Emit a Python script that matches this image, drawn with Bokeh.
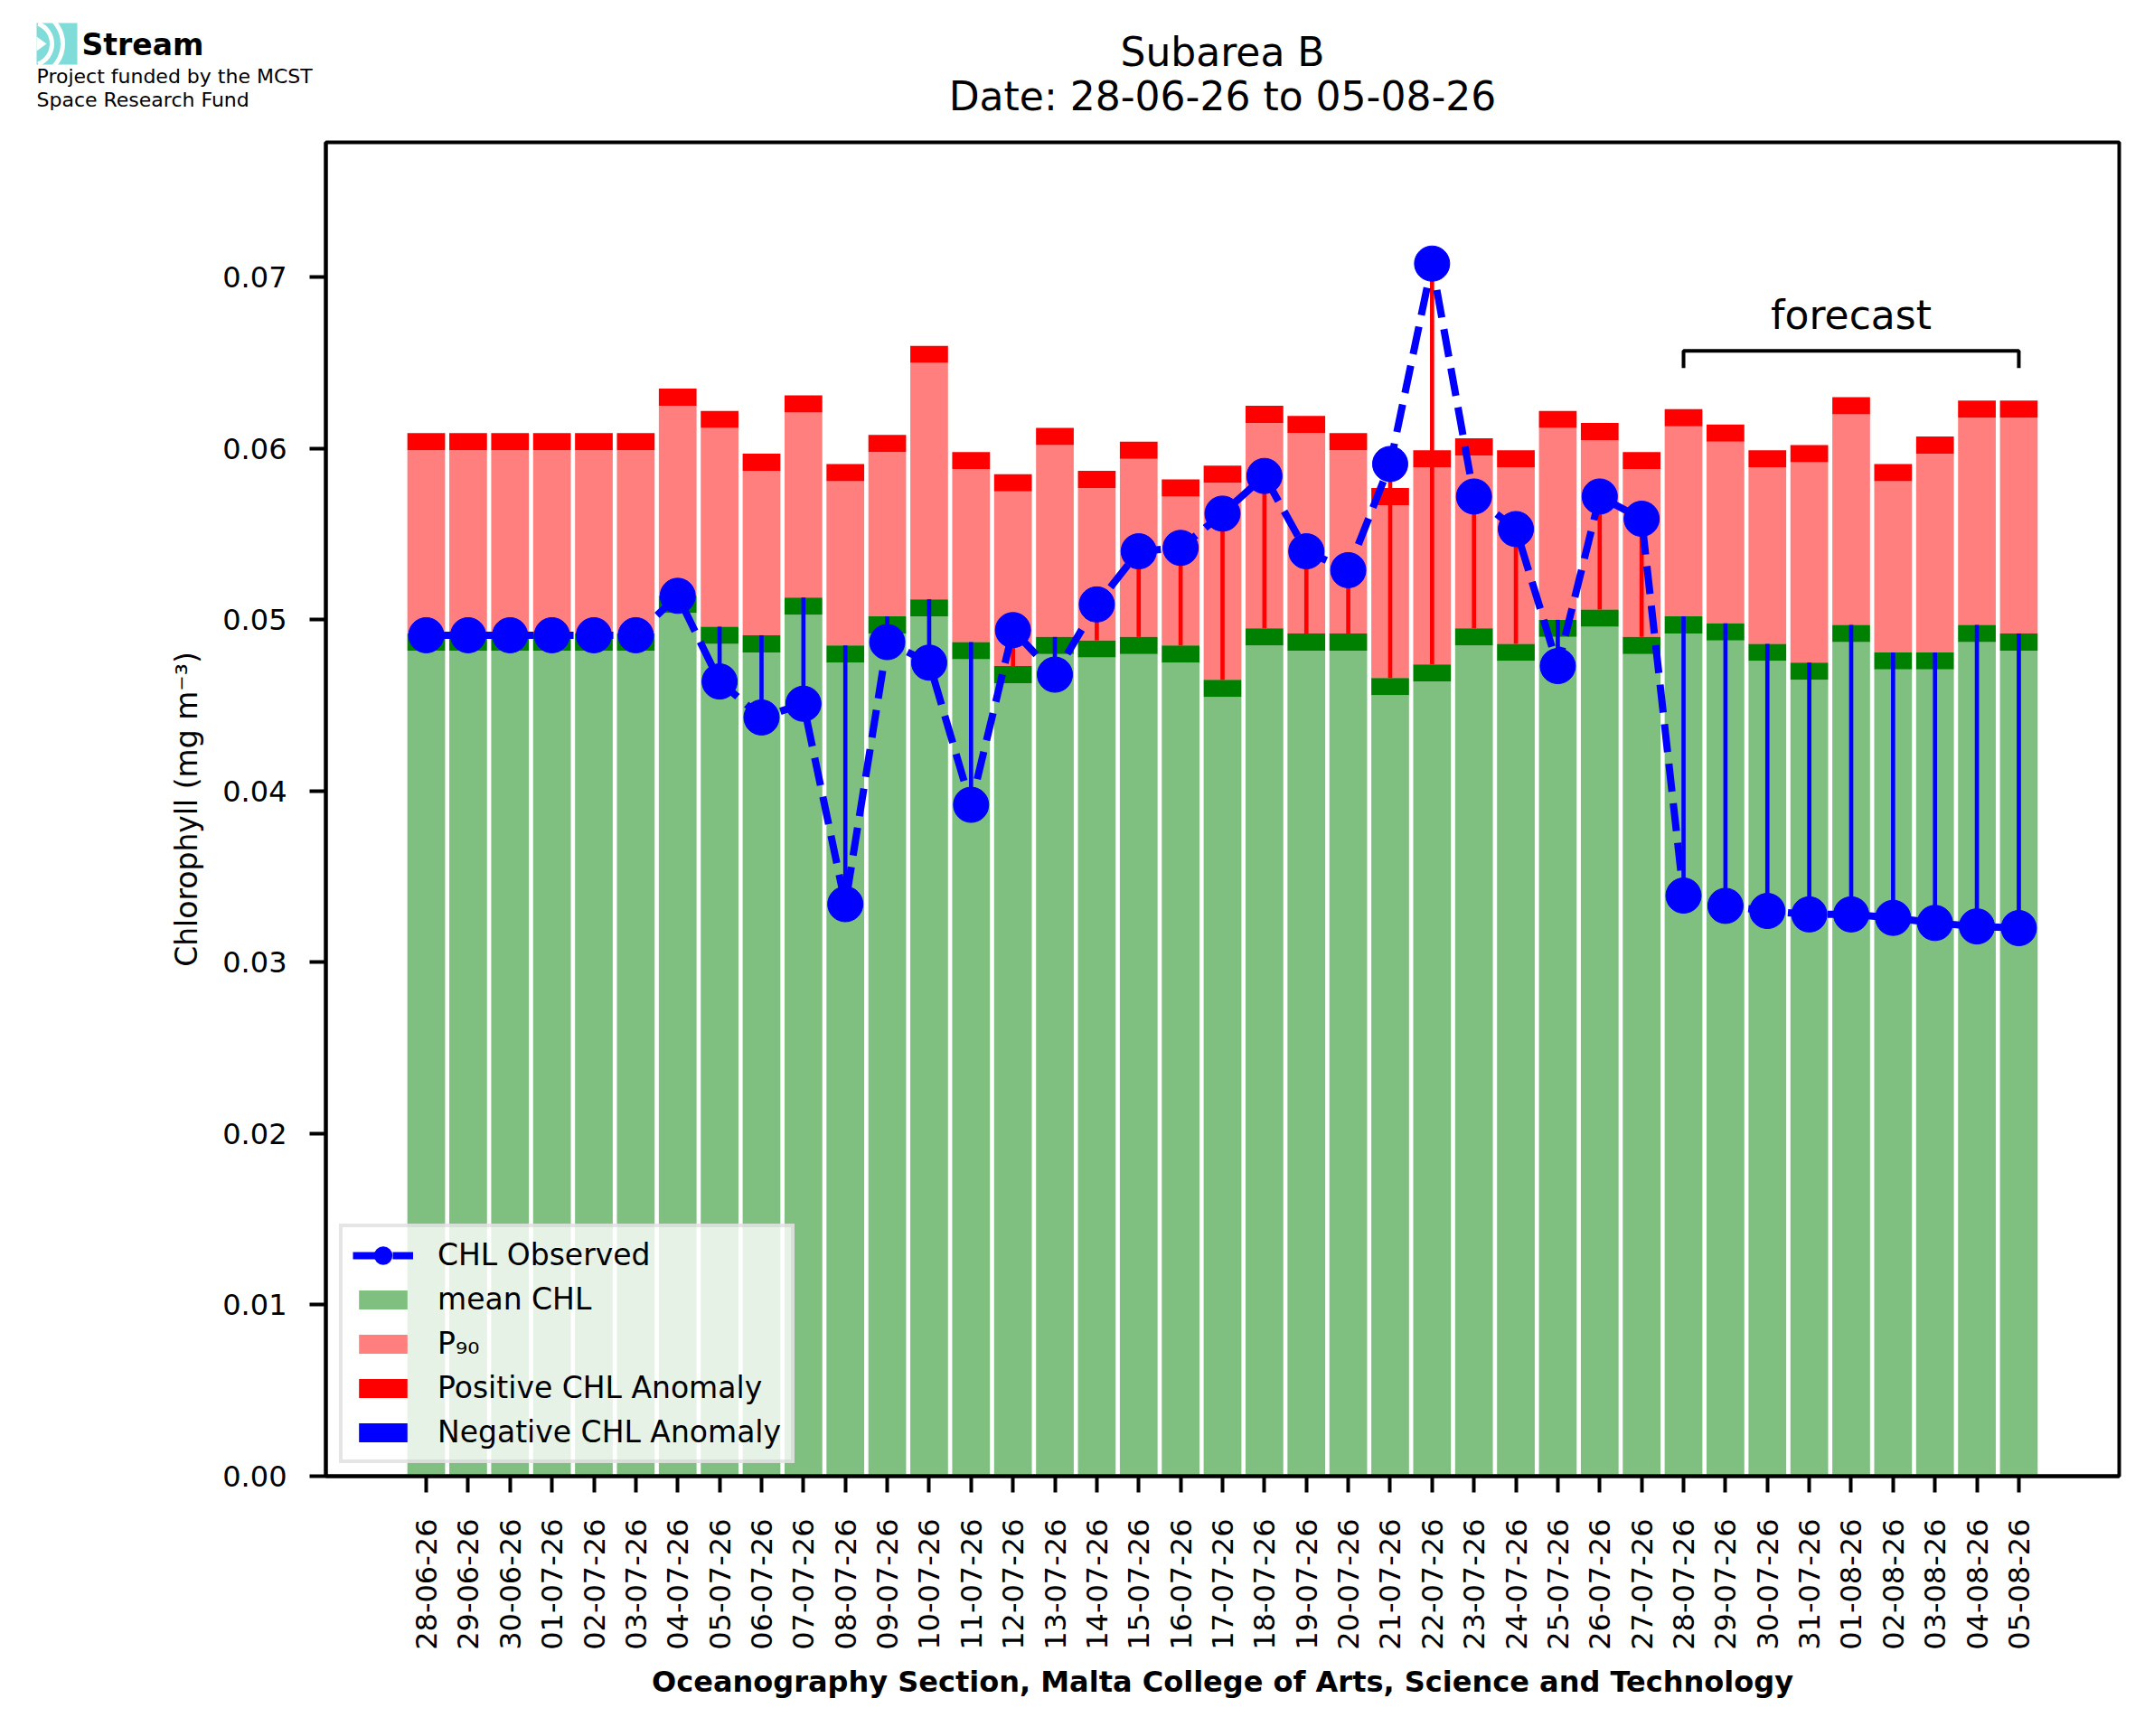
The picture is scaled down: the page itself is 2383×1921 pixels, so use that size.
import math
from bokeh.plotting import figure
from bokeh.layouts import column
from bokeh.models import (ColumnDataSource, Range1d, FixedTicker,
                          PrintfTickFormatter, Legend, LegendItem, Label)
from bokeh.embed import file_html
from bokeh.resources import INLINE

# ---------------- data ----------------
dates = ["28-06-26", "29-06-26", "30-06-26", "01-07-26", "02-07-26", "03-07-26", "04-07-26",
         "05-07-26", "06-07-26", "07-07-26", "08-07-26", "09-07-26", "10-07-26", "11-07-26",
         "12-07-26", "13-07-26", "14-07-26", "15-07-26", "16-07-26", "17-07-26", "18-07-26",
         "19-07-26", "20-07-26", "21-07-26", "22-07-26", "23-07-26", "24-07-26", "25-07-26",
         "26-07-26", "27-07-26", "28-07-26", "29-07-26", "30-07-26", "31-07-26", "01-08-26",
         "02-08-26", "03-08-26", "04-08-26", "05-08-26"]

mean_chl = [0.0492, 0.0492, 0.0492, 0.0492, 0.0492, 0.0492, 0.0514,
            0.0496, 0.0491, 0.0513, 0.0485, 0.0502, 0.0512, 0.0487,
            0.0473, 0.0490, 0.0488, 0.0490, 0.0485, 0.0465, 0.0495,
            0.0492, 0.0492, 0.0466, 0.0474, 0.0495, 0.0486, 0.0500,
            0.0506, 0.0490, 0.0502, 0.0498, 0.0486, 0.0475, 0.0497,
            0.0481, 0.0481, 0.0497, 0.0492]

p90_chl = [0.0609, 0.0609, 0.0609, 0.0609, 0.0609, 0.0609, 0.0635,
           0.0622, 0.0597, 0.0631, 0.0591, 0.0608, 0.0660, 0.0598,
           0.0585, 0.0612, 0.0587, 0.0604, 0.0582, 0.0590, 0.0625,
           0.0619, 0.0609, 0.0577, 0.0599, 0.0606, 0.0599, 0.0622,
           0.0615, 0.0598, 0.0623, 0.0614, 0.0599, 0.0602, 0.0630,
           0.0591, 0.0607, 0.0628, 0.0628]

obs_chl = [0.0491, 0.0491, 0.0491, 0.0491, 0.0491, 0.0491, 0.0514,
           0.0464, 0.0443, 0.0451, 0.0334, 0.0487, 0.0475, 0.0392,
           0.0494, 0.0468, 0.0509, 0.0540, 0.0542, 0.0562, 0.0584,
           0.0540, 0.0529, 0.0591, 0.0708, 0.0572, 0.0553, 0.0473,
           0.0572, 0.0559, 0.0339, 0.0333, 0.0330, 0.0328, 0.0328,
           0.0326, 0.0323, 0.0321, 0.0320]

forecast_start = "28-07-26"
y_ticks = [0.00, 0.01, 0.02, 0.03, 0.04, 0.05, 0.06, 0.07]

title_lines = ["Subarea B", "Date: " + dates[0] + " to " + dates[-1]]
logo_name = "Stream"
logo_lines = ["Project funded by the MCST", "Space Research Fund"]

# ---------------- styling constants ----------------
BAND = 0.001          # thickness of the dark marker bands
BAR_W = 0.9
ANOM_W = 0.1
FONT = "DejaVu Sans"
BASE_FIX = 0.39       # label baseline correction (fraction of font size)

W, H = 2380, 1918
HH = 147                                   # header height
FL, FR, FT, FB = 360, 2344, 157, 1633      # frame edges in page px
HM = H - HH

# ---------------- header (title + logo) ----------------
hdr = figure(width=W, height=HH, output_backend="svg", toolbar_location=None,
             x_range=Range1d(0, W), y_range=Range1d(HH, 0), title=None,
             x_axis_location=None, y_axis_location=None,
             min_border_left=0, min_border_right=0, min_border_top=0, min_border_bottom=0)
hdr.grid.visible = False
hdr.outline_line_color = None
hdr.background_fill_color = "white"
hdr.border_fill_color = "white"

def hdr_text(text, x, base, size, align="left", style="normal"):
    hdr.add_layout(Label(x=x, y=base, text=text, text_align=align, text_baseline="alphabetic",
                         y_offset=round(BASE_FIX * size), text_font=FONT,
                         text_font_size=f"{size}px", text_font_style=style, text_color="black"))

mid = (FL + FR) / 2
hdr_text(title_lines[0], mid, 74, 44, align="center")
hdr_text(title_lines[1], mid, 123, 44, align="center")
hdr_text(logo_name, 90, 62, 33, style="bold")
hdr_text(logo_lines[0], 40, 93, 22)
hdr_text(logo_lines[1], 40, 119, 22)

# logo icon
LOGO_CYAN = "#7fdcd8"
hdr.quad(left=[40], right=[85], top=[25], bottom=[71], fill_color=LOGO_CYAN, line_color=None)
hdr.arc(x=[33, 33], y=[48, 48], radius=[24, 36], start_angle=-1.2, end_angle=1.2,
        line_color="white", line_width=5)
hdr.patch(x=[40, 51, 40], y=[40, 48, 56], fill_color="white", line_color=None)

# ---------------- main chart ----------------
xs = list(range(len(dates)))
src = ColumnDataSource(dict(
    x=xs,
    mean=mean_chl,
    mean_lo=[m - BAND for m in mean_chl],
    p90=p90_chl,
    p90_lo=[q - BAND for q in p90_chl],
    obs=obs_chl,
))

pos = [(i, m, o) for i, m, o in zip(xs, mean_chl, obs_chl) if o > m]
neg = [(i, m, o) for i, m, o in zip(xs, mean_chl, obs_chl) if o <= m]
pos_src = ColumnDataSource(dict(x=[a[0] for a in pos], b=[a[1] for a in pos], t=[a[2] for a in pos]))
neg_src = ColumnDataSource(dict(x=[a[0] for a in neg], b=[a[2] for a in neg], t=[a[1] for a in neg]))

n = len(dates)
pad = 0.05 * (n - 1 + BAR_W)
p = figure(width=W, height=HM, output_backend="svg", toolbar_location=None, title=None,
           x_range=Range1d(-BAR_W / 2 - pad, n - 1 + BAR_W / 2 + pad),
           y_range=Range1d(0, 1.1 * max(obs_chl + p90_chl)),
           min_border_left=FL, min_border_right=W - FR,
           min_border_top=FT - HH, min_border_bottom=HM - (FB - HH))
p.background_fill_color = "white"
p.border_fill_color = "white"
p.grid.visible = False
p.outline_line_color = "black"
p.outline_line_width = 4

# keep the header independent of the chart frame
for fig in (hdr, p):
    try:
        fig.frame_align = False
    except Exception:
        pass

# bars
r_mean = p.vbar(x="x", bottom=0, top="mean_lo", width=BAR_W, source=src,
                fill_color="green", fill_alpha=0.5, line_color=None)
p.vbar(x="x", bottom="mean_lo", top="mean", width=BAR_W, source=src,
       fill_color="green", fill_alpha=1.0, line_color=None)
r_p90 = p.vbar(x="x", bottom="mean", top="p90_lo", width=BAR_W, source=src,
               fill_color="red", fill_alpha=0.5, line_color=None)
p.vbar(x="x", bottom="p90_lo", top="p90", width=BAR_W, source=src,
       fill_color="red", fill_alpha=1.0, line_color=None)

# anomalies
r_pos = p.vbar(x="x", bottom="b", top="t", width=ANOM_W, source=pos_src,
               fill_color="red", line_color=None)
r_neg = p.vbar(x="x", bottom="b", top="t", width=ANOM_W, source=neg_src,
               fill_color="blue", line_color=None)

# observed
r_line = p.line(x="x", y="obs", source=src, line_color="blue", line_width=8, line_dash="31 13")
# outlined copy, hidden beneath the real dots, gives the legend a larger dot
r_big = p.scatter(x="x", y="obs", source=src, size=10, fill_color="blue",
                  line_color="blue", line_width=10)
r_dot = p.scatter(x="x", y="obs", source=src, size=39, fill_color="blue", line_color="blue")

# forecast bracket
i0 = dates.index(forecast_start)
i1 = n - 1
BR_Y = 0.0657
BR_T = 0.001
p.line(x=[i0, i0, i1, i1], y=[BR_Y - BR_T, BR_Y, BR_Y, BR_Y - BR_T],
       line_color="black", line_width=4)
p.add_layout(Label(x=(i0 + i1) / 2, y=0.0669, text="forecast", text_align="center",
                   text_baseline="alphabetic", y_offset=round(BASE_FIX * 44),
                   text_font=FONT, text_font_size="44px", text_color="black"))

# axes
p.xaxis.ticker = FixedTicker(ticks=xs)
p.xaxis.major_label_overrides = {i: d for i, d in zip(xs, dates)}
p.xaxis.major_label_orientation = math.pi / 2
p.yaxis.ticker = FixedTicker(ticks=y_ticks)
p.yaxis.formatter = PrintfTickFormatter(format="%.2f")
for ax in (p.xaxis, p.yaxis):
    ax.axis_line_color = "black"
    ax.axis_line_width = 4
    ax.major_tick_line_color = "black"
    ax.major_tick_line_width = 4
    ax.major_tick_out = 18
    ax.major_tick_in = 0
    ax.minor_tick_line_color = None
    ax.major_label_text_font = FONT
    ax.major_label_text_font_size = "32px"
    ax.major_label_text_color = "black"
    ax.axis_label_text_font = FONT
    ax.axis_label_text_color = "black"
p.xaxis.major_label_standoff = 29
p.yaxis.major_label_standoff = 25
p.xaxis.axis_label = "Oceanography Section, Malta College of Arts, Science and Technology"
p.xaxis.axis_label_text_font_style = "bold"
p.xaxis.axis_label_text_font_size = "32px"
p.xaxis.axis_label_standoff = 13
p.yaxis.axis_label = "Chlorophyll (mg m\u207b\u00b3)"
p.yaxis.axis_label_text_font_style = "normal"
p.yaxis.axis_label_text_font_size = "33px"
p.yaxis.axis_label_standoff = 17

# legend
legend = Legend(items=[
    LegendItem(label="CHL Observed", renderers=[r_line, r_big, r_dot]),
    LegendItem(label="mean CHL", renderers=[r_mean]),
    LegendItem(label="P\u2089\u2080", renderers=[r_p90]),
    LegendItem(label="Positive CHL Anomaly", renderers=[r_pos]),
    LegendItem(label="Negative CHL Anomaly", renderers=[r_neg]),
], location=(15, 14))
legend.margin = 0
legend.padding = 11
legend.spacing = 10
legend.glyph_width = 67
legend.glyph_height = 26
legend.label_height = 26
legend.label_standoff = 27
legend.label_text_font = FONT
legend.label_text_font_size = "33px"
legend.label_text_color = "black"
legend.border_line_color = "#cccccc"
legend.border_line_width = 4
legend.background_fill_color = "white"
legend.background_fill_alpha = 0.8
p.add_layout(legend)

layout = column(hdr, p)
open("out.html", "w").write(file_html(layout, INLINE))
